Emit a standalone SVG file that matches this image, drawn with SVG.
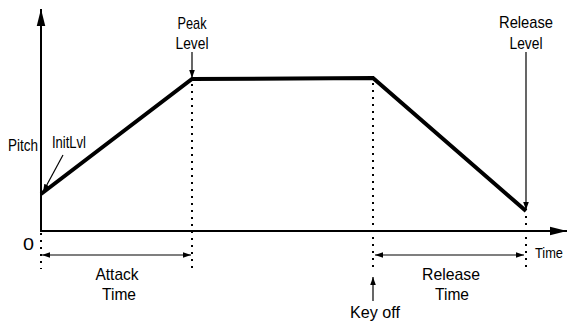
<svg xmlns="http://www.w3.org/2000/svg" width="568" height="321" viewBox="0 0 568 321">
<defs>
<style>
text{font-family:"Liberation Sans",Arial,sans-serif;font-size:17px;fill:#000}
.axis{stroke:#000;stroke-width:2;fill:none}
.env{stroke:#000;stroke-width:4;fill:none;stroke-linejoin:miter}
.dot{stroke:#000;stroke-width:2;stroke-dasharray:2 5;fill:none}
.thin{stroke:#000;stroke-width:1.2;fill:none}
</style>
<marker id="ah" viewBox="0 0 10 10" refX="10" refY="5" markerWidth="8" markerHeight="8" markerUnits="userSpaceOnUse" orient="auto-start-reverse">
<path d="M0,1.5 L10,5 L0,8.5 Z" fill="#000"/>
</marker>
<marker id="big" viewBox="0 0 10 10" refX="10" refY="5" markerWidth="17" markerHeight="17" markerUnits="userSpaceOnUse" orient="auto">
<path d="M0,2.5 L10,5 L0,7.5 Z" fill="#000"/>
</marker>
</defs>
<g id="axes">
<line class="axis" x1="41" y1="232" x2="41" y2="9" marker-end="url(#big)"/>
<line class="axis" x1="40" y1="231" x2="567" y2="231" marker-end="url(#big)"/>
</g>
<g id="envelope">
<polyline class="env" points="41,194 192,79 373,78 526,211"/>
</g>
<g id="connectors">
<line class="dot" x1="41" y1="198" x2="41" y2="269"/>
<line class="dot" x1="192" y1="84" x2="192" y2="273"/>
<line class="dot" x1="373" y1="83" x2="373" y2="272"/>
<line class="dot" x1="526" y1="216" x2="526" y2="270"/>
<line class="thin" x1="42" y1="255" x2="191" y2="255" marker-start="url(#ah)" marker-end="url(#ah)"/>
<line class="thin" x1="375" y1="255" x2="524" y2="255" marker-start="url(#ah)" marker-end="url(#ah)"/>
<line class="thin" x1="373" y1="301" x2="373" y2="277" marker-end="url(#ah)"/>
<line class="thin" x1="192" y1="52" x2="192" y2="78" marker-end="url(#ah)"/>
<line class="thin" x1="526" y1="52" x2="526" y2="210" marker-end="url(#ah)"/>
<line class="thin" x1="63" y1="155" x2="43" y2="192" marker-end="url(#ah)"/>
</g>
<g id="labels">
<text x="8" y="151" textLength="30" lengthAdjust="spacingAndGlyphs">Pitch</text>
<text x="52" y="148" textLength="34" lengthAdjust="spacingAndGlyphs">InitLvl</text>
<text x="192" y="29" text-anchor="middle" textLength="29" lengthAdjust="spacingAndGlyphs">Peak</text>
<text x="192" y="49" text-anchor="middle" textLength="33" lengthAdjust="spacingAndGlyphs">Level</text>
<text x="526" y="28" text-anchor="middle" textLength="54" lengthAdjust="spacingAndGlyphs">Release</text>
<text x="526" y="49" text-anchor="middle" textLength="33" lengthAdjust="spacingAndGlyphs">Level</text>
<text x="23" y="250" textLength="11" lengthAdjust="spacingAndGlyphs">0</text>
<text x="535" y="258" style="font-size:15px" textLength="28" lengthAdjust="spacingAndGlyphs">Time</text>
<text x="117" y="280" text-anchor="middle" textLength="43" lengthAdjust="spacingAndGlyphs">Attack</text>
<text x="119" y="300" text-anchor="middle" textLength="34" lengthAdjust="spacingAndGlyphs">Time</text>
<text x="451" y="280" text-anchor="middle" textLength="58" lengthAdjust="spacingAndGlyphs">Release</text>
<text x="452" y="300" text-anchor="middle" textLength="34" lengthAdjust="spacingAndGlyphs">Time</text>
<text x="350" y="318" textLength="50" lengthAdjust="spacingAndGlyphs">Key off</text>
</g>
</svg>
